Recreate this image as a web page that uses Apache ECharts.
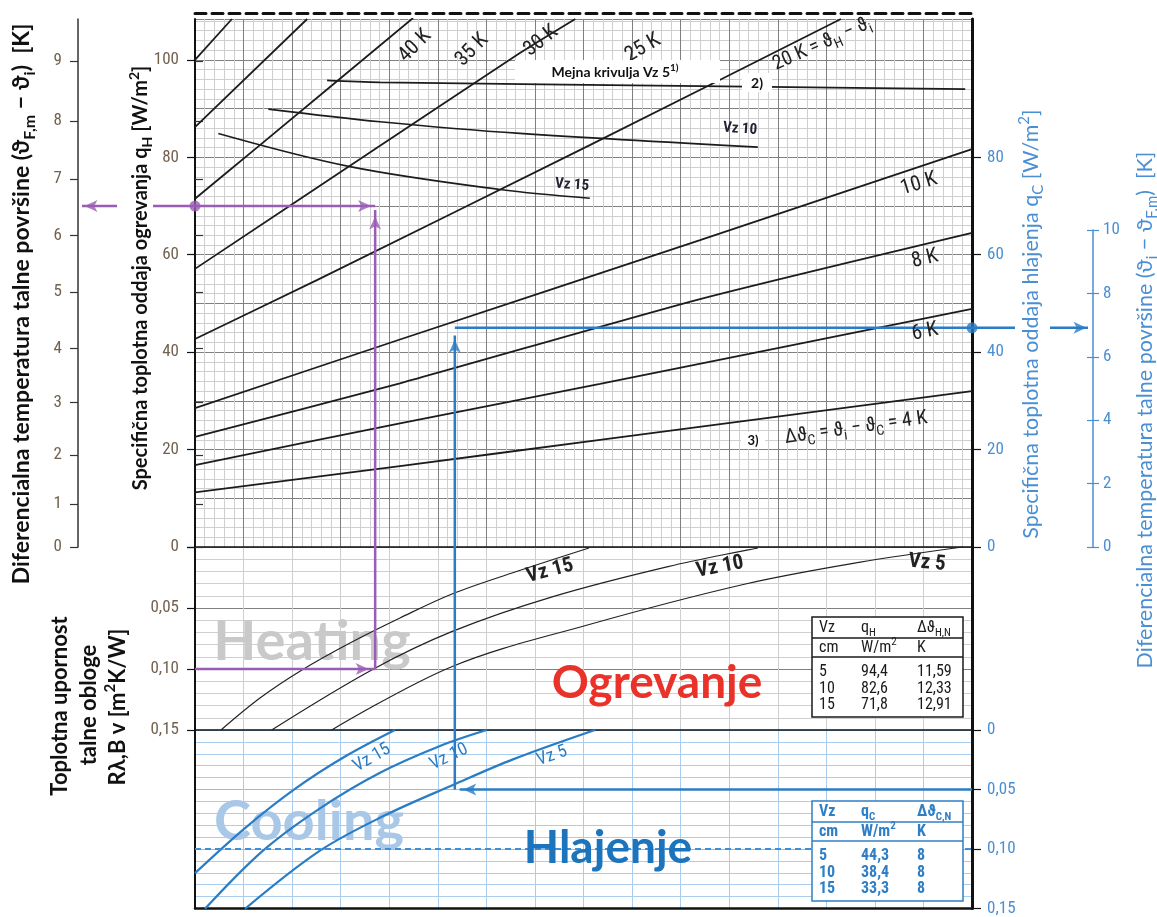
<!DOCTYPE html>
<html><head><meta charset="utf-8">
<script src="https://cdn.jsdelivr.net/npm/echarts@6/dist/echarts.min.js"></script>
<style>html,body{margin:0;padding:0;background:#fff}#c{width:1157px;height:917px}</style>
</head><body><div id="c"></div>
<script>
// ================= DATA =================
// x = abstract nomogram position (grid units 0..16); q in W/m2; R in m2K/W
const xMax = 16;
const qMax = 108.4;
const rMax = 0.15;

const qTicksH = [0, 20, 40, 60, 80, 100];
const qTicksC = [0, 20, 40, 60, 80];
const dTickLabels = [0, 1, 2, 3, 4, 5, 6, 7, 8, 9];
const dTickQ = [0, 8.8, 18.9, 29.7, 40.8, 52.4, 64.0, 75.6, 87.5, 99.8];
const dcMax = 10;

// upper part: lines of constant temperature difference
const lineA = [[0, 100.0], [0.76, 108.4]];
const lineB = [[0, 86.2], [2.31, 108.4]];
const line40K = [[0, 71.5], [1.30, 82.2], [4.49, 108.6]];
const line30K = [[0, 57.1], [3.74, 81.9], [6.69, 101.4], [7.83, 108.4]];
const line20K = [[0, 42.7], [2.51, 54.8], [8.13, 82.5], [13.30, 108.4]];
const line10K = [[0, 28.5], [4.22, 42.6], [10.40, 63.0], [16, 81.7]];
const line8K = [[0, 22.6], [4.22, 33.6], [10.40, 50.9], [16, 64.5]];
const line6K = [[0, 16.8], [4.22, 25.4], [8.34, 33.5], [16, 48.9]];
const line4K = [[0, 11.2], [4.22, 16.6], [8.34, 22.0], [16, 32.0]];

// upper part: limit curves
const limitVz5 = [[2.72, 95.8], [3.81, 95.4], [11.37, 94.5], [15.86, 94.0]];
const limitVz10 = [[1.51, 89.9], [3.81, 87.3], [6.69, 84.9], [11.59, 82.1]];
const limitVz15 = [[0.48, 84.9], [3.19, 78.1], [6.28, 73.4], [8.13, 71.6]];

// heating: floor covering resistance curves
const heatVz15 = [[0.535, 0.150], [1.338, 0.1238], [2.203, 0.1008], [3.192, 0.0787], [4.221, 0.0582], [5.292, 0.0385], [6.589, 0.0205], [8.113, 0.0008]];
const heatVz10 = [[1.579, 0.150], [3.639, 0.1008], [5.286, 0.0694], [7.372, 0.0407], [9.740, 0.0161], [11.589, 0.0008]];
const heatVz5 = [[2.815, 0.150], [5.286, 0.0981], [8.082, 0.0639], [11.313, 0.0305], [13.673, 0.0126], [15.806, 0.0]];

// cooling: floor covering resistance curves
const coolVz15 = [[0, 0.1203], [1.030, 0.0824], [2.059, 0.0495], [3.089, 0.0223], [4.118, 0.0]];
const coolVz10 = [[0.206, 0.1503], [1.400, 0.1014], [2.574, 0.0658], [3.810, 0.0359], [5.045, 0.0134], [6.007, 0.0]];
const coolVz5 = [[1.030, 0.1503], [2.574, 0.1014], [3.912, 0.0717], [5.313, 0.0462], [6.548, 0.0247], [8.237, 0.0]];

// worked examples
const exHeatX = 3.71, exHeatR = 0.10, exHeatQ = 70.0;
const exCoolX = 5.35, exCoolR = 0.05, exCoolQ = 45.0, exCoolQtip = 43.9;

// tables
const tblVz = ['5', '10', '15'];
const tblQH = ['94,4', '82,6', '71,8'];
const tblDH = ['11,59', '12,33', '12,91'];
const tblQC = ['44,3', '38,4', '33,3'];
const tblDC = ['8', '8', '8'];

// ================= LAYOUT =================
const GL = 195, GW = 777;
const G0T = 19, G0H = 528, G1T = 547, G1H = 183, G2T = 730, G2H = 182;
const pxPerX = GW / xMax;
const pxPerQ = G0H / qMax;
const px2x = p => (p - GL) / pxPerX;
const ovMin = -3, ovMax = 19; // overlay for annotation arrows reaching outside the plot

const cMajor = '#808080', cMinor = '#cfcfcf';
const cBGrid = '#aacdee', cBGridMaj = '#8fbde8';
const cBlueLab = '#4a8fd4', cBlue = '#2a7cc4', cPurple = '#9a5cb4', cLab = '#72614f';
const numFont = "'Liberation Sans Narrow', 'Roboto Condensed', Roboto, sans-serif";
const titleFont = "Lato, 'DejaVu Sans', sans-serif";
const fmtR = v => v === 0 ? '0' : v.toFixed(2).replace('.', ',');

const hid = { axisLine: { show: false }, axisTick: { show: false }, axisLabel: { show: false } };

const xAxis = [
  { gridIndex: 0, type: 'value', min: 0, max: xMax, interval: 1, ...hid,
    splitLine: { show: true, lineStyle: { color: cMajor, width: 1 } },
    minorTick: { show: false, splitNumber: 5 },
    minorSplitLine: { show: true, lineStyle: { color: cMinor, width: 1 } } },
  { gridIndex: 0, type: 'value', min: 0, max: xMax, position: 'top', offset: 6,
    axisLine: { show: true, onZero: false, lineStyle: { color: '#111', width: 3, type: [11, 6] } },
    axisTick: { show: false }, axisLabel: { show: false }, splitLine: { show: false } },
  { gridIndex: 1, type: 'value', min: 0, max: xMax, interval: 1, position: 'top',
    axisLine: { show: true, onZero: false, lineStyle: { color: '#111', width: 1.5 } },
    axisTick: { show: false }, axisLabel: { show: false },
    splitLine: { show: true, lineStyle: { color: cMinor } } },
  { gridIndex: 2, type: 'value', min: 0, max: xMax, interval: 1, position: 'top',
    axisLine: { show: true, onZero: false, lineStyle: { color: '#111', width: 1.5 } },
    axisTick: { show: false }, axisLabel: { show: false },
    splitLine: { show: true, lineStyle: { color: cBGrid } } },
  { gridIndex: 2, type: 'value', min: 0, max: xMax, position: 'bottom',
    axisLine: { show: true, onZero: false, lineStyle: { color: '#111', width: 2.5 } },
    axisTick: { show: false }, axisLabel: { show: false }, splitLine: { show: false } },
  { gridIndex: 3, type: 'value', show: false, min: 0, max: 1 },
  { gridIndex: 4, type: 'value', show: false, min: ovMin, max: ovMax }
];

const yAxis = [
  // 0 grid lines upper
  { gridIndex: 0, type: 'value', min: 0, max: qMax, interval: 10, ...hid,
    splitLine: { show: true, lineStyle: { color: cMajor } },
    minorTick: { show: false, splitNumber: 5 },
    minorSplitLine: { show: true, lineStyle: { color: cMinor } } },
  // 1 left qH
  { gridIndex: 0, type: 'value', position: 'left', min: 0, max: qMax,
    axisLine: { show: true, onZero: false, lineStyle: { color: '#111', width: 2 } },
    axisTick: { show: true, customValues: qTicksH, length: 8, lineStyle: { color: '#111', width: 1.2 } },
    axisLabel: { show: true, customValues: qTicksH, margin: 16, color: cLab, fontSize: 17, fontFamily: numFont },
    splitLine: { show: false } },
  // 2 right qC
  { gridIndex: 0, type: 'value', position: 'right', min: 0, max: qMax,
    axisLine: { show: true, onZero: false, lineStyle: { color: '#111', width: 3 } },
    axisTick: { show: true, customValues: qTicksC, length: 9, lineStyle: { color: '#111', width: 1.2 } },
    axisLabel: { show: true, customValues: qTicksC, margin: 15, color: cBlueLab, fontSize: 17, fontFamily: numFont },
    splitLine: { show: false } },
  // 3 far-left delta theta (outer ticks + labels)
  { gridIndex: 0, type: 'value', position: 'left', offset: 117, min: 0, max: qMax,
    axisLine: { show: true, onZero: false, lineStyle: { color: '#333', width: 1.5 } },
    axisTick: { show: true, customValues: dTickQ, length: 8, lineStyle: { color: '#333', width: 1.2 } },
    axisLabel: { show: true, customValues: dTickQ, margin: 16, color: cLab, fontSize: 17, fontFamily: numFont,
      formatter: v => { let i = -1; dTickQ.forEach((q, k) => { if (Math.abs(q - v) < 1e-6) i = k; }); return i >= 0 ? String(dTickLabels[i]) : ''; } },
    splitLine: { show: false } },
  // 4 far-left inner ticks
  { gridIndex: 0, type: 'value', position: 'left', offset: 117, min: 0, max: qMax,
    axisLine: { show: false },
    axisTick: { show: true, inside: true, customValues: dTickQ, length: 8, lineStyle: { color: '#333', width: 1.2 } },
    axisLabel: { show: false }, splitLine: { show: false } },
  // 5 heating R grid lines
  { gridIndex: 1, type: 'value', inverse: true, min: 0, max: rMax, interval: 0.01, ...hid,
    splitLine: { show: true, lineStyle: { color: cMinor } } },
  // 6 heating R left labels
  { gridIndex: 1, type: 'value', inverse: true, position: 'left', min: 0, max: rMax, interval: 0.05,
    axisLine: { show: true, onZero: false, lineStyle: { color: '#111', width: 2 } },
    axisTick: { show: true, length: 8, lineStyle: { color: '#111', width: 1.2 } },
    axisLabel: { show: true, margin: 16, color: cLab, fontSize: 17, fontFamily: numFont, formatter: v => v === 0 ? '' : fmtR(v) },
    splitLine: { show: true, lineStyle: { color: cMajor } } },
  // 7 heating R right border
  { gridIndex: 1, type: 'value', inverse: true, position: 'right', min: 0, max: rMax,
    axisLine: { show: true, onZero: false, lineStyle: { color: '#111', width: 3 } },
    axisTick: { show: false }, axisLabel: { show: false }, splitLine: { show: false } },
  // 8 cooling R grid lines
  { gridIndex: 2, type: 'value', inverse: true, min: 0, max: rMax, interval: 0.01, ...hid,
    splitLine: { show: true, lineStyle: { color: cBGrid } } },
  // 9 cooling R right labels
  { gridIndex: 2, type: 'value', inverse: true, position: 'right', min: 0, max: rMax, interval: 0.05,
    axisLine: { show: true, onZero: false, lineStyle: { color: '#111', width: 3 } },
    axisTick: { show: true, length: 9, lineStyle: { color: '#111', width: 1.2 } },
    axisLabel: { show: true, margin: 15, color: cBlueLab, fontSize: 17, fontFamily: numFont, formatter: fmtR },
    splitLine: { show: true, lineStyle: { color: cBGridMaj } } },
  // 10 cooling left border
  { gridIndex: 2, type: 'value', inverse: true, position: 'left', min: 0, max: rMax,
    axisLine: { show: true, onZero: false, lineStyle: { color: '#111', width: 2 } },
    axisTick: { show: false }, axisLabel: { show: false }, splitLine: { show: false } },
  // 11 far-right cooling delta theta
  { gridIndex: 3, type: 'value', position: 'left', min: 0, max: dcMax, interval: 2,
    axisLine: { show: true, onZero: false, lineStyle: { color: cBlueLab, width: 1.5 } },
    axisTick: { show: true, inside: true, length: 6, lineStyle: { color: cBlueLab, width: 1.2 } },
    axisLabel: { show: true, inside: true, margin: 10, color: cBlueLab, fontSize: 17, fontFamily: numFont },
    splitLine: { show: false } },
  // 12 far-right outer ticks
  { gridIndex: 3, type: 'value', position: 'left', min: 0, max: dcMax, interval: 2,
    axisLine: { show: false },
    axisTick: { show: true, inside: false, length: 6, lineStyle: { color: cBlueLab, width: 1.2 } },
    axisLabel: { show: false }, splitLine: { show: false } },
  // 13 overlay q axis (same scale as upper plot)
  { gridIndex: 4, type: 'value', show: false, min: 0, max: qMax }
];

// ================= SERIES =================
const series = [];
function curve(data, xi, yi, color, width, smooth) {
  series.push({ type: 'line', xAxisIndex: xi, yAxisIndex: yi, data, symbol: 'none', showSymbol: false,
    smooth: smooth, silent: true, z: 3, lineStyle: { color, width } });
  return series[series.length - 1];
}
[lineA, lineB, line40K, line30K, line20K, line10K, line8K, line6K, line4K].forEach(d => curve(d, 0, 0, '#1c1c1c', 1.8, 0.2));
[limitVz5, limitVz10, limitVz15].forEach(d => curve(d, 0, 0, '#1c1c1c', 1.7, 0.35));
[heatVz15, heatVz10, heatVz5].forEach(d => curve(d, 2, 5, '#222', 1.2, 0.35));
const c15 = curve(coolVz15, 3, 8, cBlue, 2.2, 0.35);
curve(coolVz10, 3, 8, cBlue, 2.2, 0.35);
curve(coolVz5, 3, 8, cBlue, 2.2, 0.35);
c15.markLine = { silent: true, symbol: 'none', label: { show: false },
  lineStyle: { type: [6, 4], color: '#3d8fd9', width: 1.8 }, data: [{ yAxis: 0.10 }] };

const HEAD = 13;
function shaft(data, xi, yi, color) {
  series.push({ type: 'line', xAxisIndex: xi, yAxisIndex: yi, data, symbol: 'none', showSymbol: false,
    silent: true, z: 5, lineStyle: { color, width: 2.5 } });
}
function head(tip, dir, xi, yi, pxY, color) {
  const half = HEAD / 2;
  let c, rot;
  if (dir === 'right') { c = [tip[0] - half / pxPerX, tip[1]]; rot = -90; }
  else if (dir === 'left') { c = [tip[0] + half / pxPerX, tip[1]]; rot = 90; }
  else { c = [tip[0], tip[1] - half / pxY]; rot = 0; }
  series.push({ type: 'scatter', xAxisIndex: xi, yAxisIndex: yi, silent: true, z: 6,
    symbol: 'arrow', symbolSize: [9, HEAD], symbolRotate: rot,
    itemStyle: { color }, data: [c] });
}
function dot(pt, xi, yi, color) {
  series.push({ type: 'scatter', xAxisIndex: xi, yAxisIndex: yi, silent: true, z: 6,
    symbol: 'circle', symbolSize: 11, itemStyle: { color }, data: [pt] });
}
const OX = 6, OY = 13; // overlay axes
// heating example (purple)
shaft([[0, exHeatR], [exHeatX, exHeatR]], 2, 5, cPurple);
head([exHeatX, exHeatR], 'right', 2, 5, 0, cPurple);
shaft([[exHeatX, exHeatR], [exHeatX, 0]], 2, 5, cPurple);
shaft([[exHeatX, 0], [exHeatX, exHeatQ - 0.8]], OX, OY, cPurple);
head([exHeatX, exHeatQ - 0.8], 'up', OX, OY, pxPerQ, cPurple);
shaft([[px2x(153), exHeatQ], [exHeatX, exHeatQ]], OX, OY, cPurple);
head([exHeatX + 0.05, exHeatQ], 'right', OX, OY, 0, cPurple);
shaft([[px2x(117), exHeatQ], [px2x(82), exHeatQ]], OX, OY, cPurple);
head([px2x(78), exHeatQ], 'left', OX, OY, 0, cPurple);
dot([0, exHeatQ], OX, OY, cPurple);
// cooling example (blue)
shaft([[xMax, exCoolR], [exCoolX + 0.1, exCoolR]], 3, 8, cBlue);
head([exCoolX + 0.04, exCoolR], 'left', 3, 8, 0, cBlue);
shaft([[exCoolX, exCoolR], [exCoolX, 0]], 3, 8, cBlue);
shaft([[exCoolX, rMax], [exCoolX, 0]], 2, 5, cBlue);
shaft([[exCoolX, 0], [exCoolX, exCoolQtip - 0.5]], OX, OY, cBlue);
head([exCoolX, exCoolQtip], 'up', OX, OY, pxPerQ, cBlue);
shaft([[exCoolX, exCoolQ], [px2x(1015), exCoolQ]], OX, OY, cBlue);
shaft([[px2x(1050), exCoolQ], [px2x(1088), exCoolQ]], OX, OY, cBlue);
head([px2x(1093), exCoolQ], 'right', OX, OY, 0, cBlue);
dot([xMax, exCoolQ], OX, OY, cBlue);

// ================= GRAPHIC TEXT =================
const els = [];
function rich(fs, fw, ff, fill) {
  return {
    b: { fontSize: fs, fontWeight: fw, fontFamily: ff, fill, lineHeight: Math.round(fs * 1.35) },
    s: { fontSize: Math.round(fs * 0.68), fontWeight: fw, fontFamily: ff, fill, verticalAlign: 'bottom' },
    p: { fontSize: Math.round(fs * 0.68), fontWeight: fw, fontFamily: ff, fill, verticalAlign: 'top' }
  };
}
function txt(x, y, text, o) {
  o = o || {};
  const align = o.align || 'center';
  els.push({ type: 'text', x, y, rotation: o.rot || 0, z: o.z == null ? 6 : o.z, silent: true,
    style: { text, x: 0, y: 0, fill: o.fill || '#111', fontSize: o.fs || 16, fontWeight: o.fw || 'normal',
      fontFamily: o.ff || numFont, align, textAlign: align, verticalAlign: 'middle', textVerticalAlign: 'middle',
      rich: o.rich } });
}
function box(x, y, w, h, stroke, fill, lw) {
  els.push({ type: 'rect', z: 6, silent: true, shape: { x, y, width: w, height: h },
    style: { fill: fill || '#fff', stroke: stroke || null, lineWidth: lw || 0 } });
}
function hline(x1, x2, y, stroke, lw) {
  els.push({ type: 'line', z: 7, silent: true, shape: { x1, y1: y, x2, y2: y }, style: { stroke, lineWidth: lw } });
}
const deg = d => d * Math.PI / 180;

// axis titles
txt(22, 304, '{b|Diferencialna temperatura talne površine (ϑ}{s|F,m}{b| − ϑ}{s|i}{b|)  [K]}',
  { rot: Math.PI / 2, rich: rich(23, 'bold', titleFont, '#111') });
txt(141, 278, '{b|Specifična toplotna oddaja ogrevanja q}{s|H}{b| [W/m}{p|2}{b|]}',
  { rot: Math.PI / 2, rich: rich(20, 'bold', titleFont, '#111') });
txt(1031, 324, '{b|Specifična toplotna oddaja hlajenja q}{s|C}{b| [W/m}{p|2}{b|]}',
  { rot: Math.PI / 2, rich: rich(21.5, 'normal', titleFont, cBlueLab) });
txt(1145, 410, '{b|Diferencialna temperatura talne površine (ϑ}{s|i}{b| − ϑ}{s|F,m}{b|)  [K]}',
  { rot: Math.PI / 2, rich: rich(21.5, 'normal', titleFont, cBlueLab) });
txt(60, 706, 'Toplotna upornost', { rot: Math.PI / 2, fs: 22, fw: 'bold', ff: titleFont });
txt(89, 705, 'talne obloge', { rot: Math.PI / 2, fs: 22, fw: 'bold', ff: titleFont });
txt(118, 707, '{b|Rλ,B v [m}{p|2}{b|K/W]}', { rot: Math.PI / 2, rich: rich(22, 'bold', titleFont, '#111') });

// big words
txt(312, 642, 'Heating', { fs: 56, fw: 'bold', ff: titleFont, fill: '#c9c9c9', z: 1 });
txt(309, 822, 'Cooling', { fs: 56, fw: 'bold', ff: titleFont, fill: '#a9c8e8', z: 1 });
txt(657, 683, 'Ogrevanje', { fs: 46, fw: 'bold', ff: titleFont, fill: '#e8322a' });
txt(608, 848, 'Hlajenje', { fs: 46, fw: 'bold', ff: titleFont, fill: '#1b74bc' });

// temperature difference labels
const kf = { fs: 21, ff: numFont, fill: '#222' };
txt(415, 46, '40 K', { ...kf, rot: deg(45) });
txt(472, 50, '35 K', { ...kf, rot: deg(45) });
txt(541, 41, '30 K', { ...kf, rot: deg(38) });
txt(643, 48, '25 K', { ...kf, rot: deg(30) });
txt(822, 44, '{b|20 K = ϑ}{s|H}{b| − ϑ}{s|i}', { rot: deg(24), rich: rich(20, 'normal', numFont, '#222') });
txt(919, 184, '10 K', { ...kf, rot: deg(17) });
txt(925, 259, '8 K', { ...kf, rot: deg(14) });
txt(925, 332, '6 K', { ...kf, rot: deg(11) });
txt(856, 428, '{b|Δϑ}{s|C}{b| = ϑ}{s|i}{b| − ϑ}{s|C}{b| = 4 K}', { rot: deg(8), rich: rich(20, 'normal', numFont, '#222') });

// boxes with notes
box(515, 60, 205, 23, null, '#fff');
txt(615, 72, '{b|Mejna krivulja Vz 5}{p|1)}', { rich: rich(14, 'bold', titleFont, '#111') });
box(742, 73, 30, 19, null, '#fff');
txt(757, 83, '2)', { fs: 14, fw: 'bold', ff: titleFont });
box(741, 432, 24, 17, null, '#fff');
txt(753, 441, '3)', { fs: 13, fw: 'bold', ff: titleFont });

// curve labels
txt(740, 129, 'Vz 10', { fs: 15, fw: 'bold', ff: numFont, fill: '#223', rot: deg(-4) });
txt(572, 185, 'Vz 15', { fs: 15, fw: 'bold', ff: numFont, fill: '#223', rot: deg(-4) });
txt(550, 571, 'Vz 15', { fs: 21, fw: 'bold', ff: numFont, fill: '#222', rot: deg(15) });
txt(720, 567, 'Vz 10', { fs: 21, fw: 'bold', ff: numFont, fill: '#222', rot: deg(11) });
txt(927, 563, 'Vz 5', { fs: 21, fw: 'bold', ff: numFont, fill: '#222', rot: deg(-5) });
txt(372, 758, 'Vz 15', { fs: 18, ff: numFont, fill: cBlue, rot: deg(30) });
txt(449, 757, 'Vz 10', { fs: 18, ff: numFont, fill: cBlue, rot: deg(26) });
txt(552, 756, 'Vz 5', { fs: 18, ff: numFont, fill: cBlue, rot: deg(19) });

// tables
function table(y0, color, lw, qSym, dSym, qv, dv, fw) {
  box(812, y0, 151, 100, color, '#fff', lw);
  hline(812, 963, y0 + 21, color, lw);
  hline(812, 963, y0 + 40, color, lw);
  const r = rich(16, fw, numFont, color);
  const cols = [819, 861, 917];
  const o = { fs: 16, ff: numFont, fill: color, align: 'left', fw, rich: r };
  txt(cols[0], y0 + 11, 'Vz', o);
  txt(cols[1], y0 + 11, '{b|q}{s|' + qSym + '}', o);
  txt(cols[2], y0 + 11, '{b|Δϑ}{s|' + dSym + '}', o);
  txt(cols[0], y0 + 31, 'cm', o);
  txt(cols[1], y0 + 31, '{b|W/m}{p|2}', o);
  txt(cols[2], y0 + 31, 'K', o);
  tblVz.forEach((v, i) => {
    const yy = y0 + 55 + i * 16.5;
    txt(cols[0], yy, v, o);
    txt(cols[1], yy, qv[i], o);
    txt(cols[2], yy, dv[i], o);
  });
}
table(617, '#1a1a1a', 1.5, 'H', 'H,N', tblQH, tblDH, 'normal');
table(801, '#2f7fc6', 1.5, 'C', 'C,N', tblQC, tblDC, 'bold');

const option = {
  animation: false,
  backgroundColor: '#fff',
  grid: [
    { left: GL, top: G0T, width: GW, height: G0H },
    { left: GL, top: G1T, width: GW, height: G1H },
    { left: GL, top: G2T, width: GW, height: G2H },
    { left: 1093, top: 230, width: 1, height: 317 },
    { left: GL + ovMin * pxPerX, top: G0T, width: (ovMax - ovMin) * pxPerX, height: G0H }
  ],
  xAxis, yAxis, series,
  graphic: { elements: els }
};
const chart = echarts.init(document.getElementById('c'));
chart.setOption(option);
</script></body></html>
